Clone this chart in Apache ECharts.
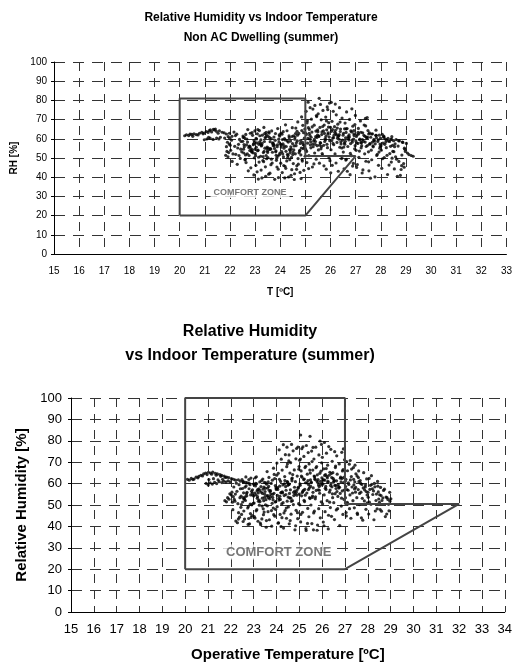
<!DOCTYPE html>
<html><head><meta charset="utf-8">
<script src="https://cdn.jsdelivr.net/npm/echarts@6/dist/echarts.min.js"></script>
<style>html,body{margin:0;padding:0;background:#fff}#c{width:515px;height:664px}</style>
</head><body><div id="c"></div>
<script>
// ---------- data ----------
const titleTop = ['Relative Humidity vs Indoor Temperature', 'Non AC Dwelling (summer)'];
const titleBottom = ['Relative Humidity', 'vs Indoor Temperature (summer)'];
const zoneTop = [[20,20],[20,81],[25,81],[25,51],[27,51],[25,20],[20,20]];
const zoneBottom = [[20,20],[20,100],[27,100],[27,50.5],[32,50.5],[27,20],[20,20]];
const labelTop = [[22.8,32]];
const labelBottom = [[24.1,28]];

const nonAcPoints = [
[20.2,61.6],[20.27,62.1],[20.36,61.7],[20.48,62.3],[20.57,62.6],[20.66,62.2],[20.79,62.9],[20.88,63.4],[20.97,63.0],[21.06,63.8],[21.18,64.3],[21.27,63.6],[21.38,64.6],[21.46,63.9],[21.58,64.2],[21.69,63.4],[21.77,63.1],[21.86,62.5],[21.98,62.9],[20.52,61.3],[20.73,62.0],[20.93,62.6],[21.13,63.3],[21.34,64.9],[21.53,62.9],[21.22,64.7],[21.42,65.1],[20.41,62.4],
[20.98,59.5],[21.08,59.9],[21.21,60.3],[21.33,59.7],[21.47,60.4],[21.62,60.8],[21.79,60.4],[21.93,61.1],[22.08,61.3],[22.22,61.7],[21.15,60.7],[21.56,59.9],
[22.12,52.1],[21.83,51.4],[22.31,55.2],[21.97,57.3],[22.44,58.6],[21.88,53.4],[22.19,56.1],[22.03,54.0],[22.38,59.7],[21.92,50.6],[22.27,62.4],[22.09,48.2],[22.41,49.8],[21.86,55.9],[22.23,51.9],[22.06,59.3],[22.47,53.2],[21.99,60.3],[22.34,57.1],[22.16,63.5],[22.29,46.7],[21.95,52.8],[22.43,54.6],[22.01,56.7],[22.36,51.3],[21.9,58.2],
[22.83,44.9],[22.61,49.3],[22.92,52.7],[22.54,54.6],[22.77,56.2],[22.98,58.1],[22.67,59.9],[22.52,61.4],[22.88,63.2],[22.71,64.8],[22.94,57.4],[22.58,60.6],[22.81,62.9],[22.97,50.1],[22.64,47.6],[22.86,53.5],[22.57,55.8],[22.73,43.3],[22.95,41.2],[22.62,51.6],[22.79,53.9],[22.51,58.7],[22.9,61.8],[22.69,52.2],[22.56,57.0],[22.84,54.8],[22.75,55.5],[22.99,64.1],[22.6,49.0],[22.93,56.9],[22.66,56.8],[22.87,53.1],[22.53,60.7],[22.8,55.9],[22.7,58.3],[22.96,59.1],[22.63,62.3],[22.76,51.3],[22.89,54.2],[22.55,52.6],
[23.27,39.6],[23.08,42.8],[23.41,45.4],[23.16,47.9],[23.46,49.6],[23.02,51.2],[23.33,52.8],[23.12,54.1],[23.48,55.7],[23.21,57.3],[23.37,58.6],[23.04,60.2],[23.29,61.9],[23.44,63.4],[23.11,64.8],[23.35,65.9],[23.07,57.9],[23.23,59.4],[23.49,53.6],[23.14,50.4],[23.39,55.1],[23.01,52.3],[23.26,56.7],[23.43,61.0],[23.09,62.6],[23.31,48.7],[23.47,54.9],[23.18,58.3],[23.03,46.2],[23.24,43.7],[23.42,40.5],[23.13,39.0],[23.36,53.4],[23.22,50.9],[23.06,59.9],[23.45,62.2],[23.28,57.6],[23.17,64.3],[23.38,62.7],[23.1,53.8],[23.32,50.7],[23.05,55.6],[23.44,51.3],[23.19,61.6],[23.25,56.3],[23.4,60.5],[23.15,57.1],[23.34,48.1],[23.0,54.6],
[23.78,38.9],[23.54,41.6],[23.92,44.2],[23.63,46.5],[23.85,48.8],[23.51,50.2],[23.97,51.7],[23.69,53.0],[23.57,54.4],[23.88,55.9],[23.73,57.2],[23.6,58.5],[23.94,59.8],[23.52,61.3],[23.81,62.7],[23.66,64.1],[23.9,65.3],[23.58,60.6],[23.76,56.6],[23.99,52.5],[23.65,49.4],[23.83,53.7],[23.53,55.2],[23.71,57.9],[23.96,62.0],[23.87,45.3],[23.59,42.1],[23.93,39.8],[23.68,47.4],[23.8,59.2],[23.55,63.6],[23.91,51.0],[23.62,54.6],[23.75,60.9],[23.86,49.9],[23.5,52.9],[23.72,56.4],[23.95,58.3],[23.64,60.1],[23.82,53.2],[23.56,63.0],[23.89,56.9],[23.7,57.6],[23.61,54.9],[23.84,51.4],[23.77,55.0],[23.98,61.4],
[24.33,40.1],[24.08,42.4],[24.46,43.9],[24.19,45.7],[24.02,47.3],[24.38,49.1],[24.13,50.6],[24.29,51.9],[24.06,53.3],[24.44,54.7],[24.24,56.0],[24.11,57.4],[24.41,58.8],[24.17,60.1],[24.35,61.5],[24.03,62.9],[24.27,64.2],[24.48,65.8],[24.21,67.3],[24.09,59.6],[24.4,53.8],[24.15,55.1],[24.31,51.4],[24.01,57.2],[24.26,48.5],[24.47,61.2],[24.12,63.7],[24.37,54.4],[24.05,56.8],[24.22,44.6],[24.43,41.0],[24.18,39.6],[24.32,58.3],[24.07,62.4],[24.45,50.3],[24.14,46.1],[24.28,58.9],[24.39,52.6],[24.04,55.7],[24.23,53.5],[24.49,57.5],[24.16,56.3],[24.36,60.6],[24.1,52.1],[24.3,50.3],[24.2,59.4],[24.42,55.8],
[24.83,39.3],[24.57,41.8],[24.94,43.6],[24.66,45.9],[24.52,47.1],[24.88,48.4],[24.71,49.7],[24.99,50.9],[24.6,52.2],[24.77,53.6],[24.91,54.9],[24.55,56.3],[24.8,57.6],[24.68,58.9],[24.96,60.3],[24.53,61.6],[24.74,62.8],[24.86,64.3],[24.62,65.6],[24.9,67.0],[24.7,68.8],[24.85,71.4],[24.58,59.8],[24.97,55.5],[24.64,57.9],[24.82,51.6],[24.51,53.0],[24.72,46.8],[24.93,63.2],[24.59,60.9],[24.87,49.2],[24.65,44.1],[24.79,42.5],[24.56,38.8],[24.98,65.1],[24.69,61.9],[24.75,52.7],[24.54,54.2],[24.89,58.1],[24.63,56.4],[24.81,59.1],[24.92,57.0],[24.67,63.9],[24.84,55.2],[24.5,51.8],[24.78,54.0],[24.95,56.6],[24.61,62.7],
[25.28,45.3],[25.06,47.6],[25.43,49.4],[25.14,51.2],[25.37,52.6],[25.02,53.9],[25.22,55.3],[25.47,56.4],[25.09,57.7],[25.33,58.8],[25.17,59.9],[25.41,61.1],[25.04,62.3],[25.26,63.5],[25.49,64.6],[25.12,65.8],[25.35,67.1],[25.07,68.3],[25.24,70.2],[25.44,72.1],[25.03,74.3],[25.19,76.2],[25.38,77.4],[25.11,79.1],[25.3,75.5],[25.46,60.7],[25.15,62.9],[25.39,57.1],[25.01,54.6],[25.27,66.2],[25.08,69.4],[25.42,64.0],[25.21,58.5],[25.34,46.9],[25.13,44.5],[25.45,71.6],[25.05,53.4],[25.31,55.9],[25.18,61.8],[25.4,58.6],[25.23,60.8],[25.1,60.2],[25.36,59.7],[25.48,61.9],[25.2,56.8],[25.29,57.3],[25.0,63.1],[25.16,64.9],
[25.83,44.2],[25.56,47.3],[25.94,50.1],[25.67,52.3],[25.52,54.2],[25.88,55.4],[25.73,56.6],[25.61,57.8],[25.97,59.0],[25.79,60.1],[25.54,61.2],[25.9,62.4],[25.66,63.6],[25.85,64.7],[25.58,65.9],[25.75,67.2],[25.93,68.4],[25.63,69.9],[25.81,71.3],[25.51,73.0],[25.7,74.8],[25.87,76.6],[25.6,77.9],[25.55,81.1],[25.96,78.6],[25.77,58.6],[25.53,61.5],[25.91,63.1],[25.69,66.4],[25.84,69.3],[25.62,54.8],[25.98,48.6],[25.74,45.9],[25.57,56.7],[25.89,75.2],[25.68,51.5],[25.5,63.7],[25.8,59.5],[25.65,62.2],[25.95,60.9],[25.72,64.2],[25.59,58.0],[25.86,57.1],[25.76,62.8],[25.64,55.9],[25.92,66.1],[25.82,61.3],
[26.31,43.1],[26.07,46.2],[26.44,49.7],[26.18,52.1],[26.02,54.3],[26.37,55.6],[26.13,56.9],[26.26,58.1],[26.48,59.3],[26.09,60.4],[26.33,61.6],[26.21,62.7],[26.04,63.9],[26.4,65.1],[26.16,66.3],[26.29,67.6],[26.06,69.1],[26.46,70.8],[26.23,72.5],[26.11,74.3],[26.36,76.2],[26.19,78.1],[26.03,79.0],[26.42,57.3],[26.14,61.9],[26.34,59.8],[26.08,64.8],[26.47,50.9],[26.22,47.4],[26.01,42.3],[26.38,68.7],[26.12,60.6],[26.27,65.6],[26.45,55.2],[26.05,59.1],[26.3,61.3],[26.17,63.4],[26.41,58.4],[26.24,62.1],[26.1,57.6],[26.39,63.8],[26.2,64.4],[26.35,62.2],[26.0,66.0],[26.28,60.3],
[26.78,41.3],[26.54,44.4],[26.91,47.2],[26.63,49.3],[26.83,51.2],[26.51,53.1],[26.96,54.8],[26.69,56.0],[26.57,57.2],[26.87,58.3],[26.73,59.4],[26.6,60.5],[26.94,61.7],[26.52,62.9],[26.81,64.1],[26.66,65.3],[26.89,66.6],[26.58,68.2],[26.76,70.1],[26.99,72.2],[26.64,74.0],[26.85,75.6],[26.55,57.8],[26.92,59.9],[26.7,61.1],[26.84,63.6],[26.53,55.7],[26.79,52.4],[26.97,67.4],[26.61,48.9],[26.88,45.8],[26.67,43.1],[26.75,60.9],[26.59,58.7],[26.93,62.6],[26.71,60.2],[26.86,59.3],[26.5,61.9],[26.8,57.5],[26.62,63.3],[26.98,56.4],[26.74,62.0],[26.56,65.2],
[27.26,42.2],[27.04,45.1],[27.41,48.3],[27.13,50.4],[27.36,52.2],[27.02,54.0],[27.22,55.3],[27.47,56.5],[27.09,57.6],[27.31,58.7],[27.17,59.8],[27.43,60.9],[27.06,62.0],[27.28,63.1],[27.49,64.3],[27.11,65.4],[27.34,67.2],[27.19,69.3],[27.39,70.6],[27.46,71.1],[27.24,56.4],[27.01,58.9],[27.37,61.3],[27.15,53.6],[27.44,60.4],[27.07,46.6],[27.29,43.8],[27.4,66.7],[27.12,62.5],[27.33,61.8],[27.21,58.1],[27.48,60.7],[27.05,57.8],[27.27,59.6],[27.16,59.5],[27.38,58.3],[27.03,61.2],[27.23,57.9],[27.42,56.0],[27.1,63.4],
[27.77,40.2],[27.53,43.3],[27.91,46.2],[27.64,49.1],[27.84,51.3],[27.51,53.2],[27.96,55.1],[27.69,56.3],[27.57,57.5],[27.88,58.6],[27.73,59.7],[27.6,60.8],[27.94,61.9],[27.55,63.1],[27.81,64.5],[27.67,62.6],[27.99,60.3],[27.75,58.9],[27.62,54.1],[27.86,51.9],[27.59,39.5],[27.97,57.3],[27.7,55.8],[27.52,48.0],[27.8,61.8],[27.93,53.1],[27.66,58.2],[27.83,60.6],[27.56,57.2],[27.72,59.1],[27.9,59.4],[27.78,57.4],[27.63,62.5],[27.98,56.0],
[28.27,41.4],[28.04,44.6],[28.42,47.9],[28.14,50.2],[28.36,52.3],[28.02,54.1],[28.22,55.4],[28.47,56.6],[28.09,57.7],[28.31,58.8],[28.18,59.9],[28.44,61.1],[28.06,62.3],[28.29,60.2],[28.12,61.4],[28.39,56.1],[28.2,58.3],[28.48,53.5],[28.07,49.6],[28.33,46.3],[28.11,60.9],[28.4,59.7],[28.25,51.4],[28.45,49.9],[28.16,57.1],[28.01,56.4],[28.35,58.6],[28.23,59.4],
[28.78,41.0],[28.54,44.3],[28.91,47.1],[28.63,49.4],[28.84,51.5],[28.52,53.3],[28.96,54.6],[28.69,56.2],[28.57,57.4],[28.88,58.1],[29.02,57.6],[28.61,59.6],[28.74,58.9],[28.93,45.2],[28.81,44.0],[29.06,52.6],[29.12,51.8],[29.21,51.3],[29.29,50.9],[28.66,40.5],[28.98,53.4],[28.59,50.6],[28.72,48.2],[28.83,46.0],[28.51,59.0],[28.86,58.3],[28.55,55.9],[28.94,55.1],
[26.62,65.2],[26.93,64.3],[27.21,63.4],[27.52,62.5],[27.82,61.8],[28.13,60.9],[28.43,59.7],[28.71,59.0]
];

const allPoints = [
[20.1,62.0],[20.18,61.6],[20.27,62.4],[20.39,62.1],[20.48,63.0],[20.6,63.4],[20.69,63.9],[20.81,64.5],[20.9,64.9],[21.02,65.3],[21.11,64.9],[21.21,65.4],[21.32,64.8],[21.41,64.5],[21.52,64.2],[21.6,63.8],[21.71,63.5],[21.82,63.0],[21.91,62.8],[22.03,62.3],[22.12,62.0],[22.21,61.6],[22.33,61.8],[22.42,61.1],[22.54,60.9],[20.34,61.9],[20.56,62.7],[20.76,63.6],[20.96,64.2],[21.16,64.4],[21.36,63.9],[21.56,63.4],[21.76,62.9],[22.65,60.6],[22.8,60.2],
[20.92,60.1],[21.01,59.4],[21.09,60.4],[21.19,59.8],[21.29,60.6],[21.38,60.0],[21.49,60.9],[21.61,60.5],[21.7,61.1],[21.79,60.7],[21.88,61.3],[21.97,60.8],[21.04,61.9],[21.24,62.3],[21.44,61.7],[21.64,62.0],
[22.07,51.3],[21.74,52.0],[22.31,50.6],[21.86,53.4],[22.18,51.8],[21.96,55.2],[22.42,57.6],[22.11,53.9],[22.27,56.4],[21.81,51.5],[22.46,50.2],[22.02,54.7],[22.36,59.5],[22.15,52.6],[22.38,44.3],[22.22,42.5],[22.47,45.6],[22.29,41.7],[22.09,47.8],[22.44,48.9],[22.24,60.2],[22.49,61.9],[22.34,46.4],[22.05,56.0],[22.4,53.4],[21.92,52.7],[22.2,55.1],[22.13,58.4],[22.33,43.4],[22.45,54.2],
[22.82,41.2],[22.6,43.4],[22.93,45.1],[22.57,47.2],[22.77,49.3],[22.98,50.8],[22.64,52.1],[22.53,53.5],[22.87,54.7],[22.71,55.9],[22.95,57.1],[22.62,58.3],[22.84,59.5],[22.55,60.8],[22.79,61.9],[22.91,56.4],[22.67,58.9],[22.52,51.4],[22.74,48.6],[22.89,44.2],[22.58,52.9],[22.97,54.6],[22.69,55.3],[22.54,42.3],[22.76,40.9],[22.92,50.1],[22.63,53.8],[22.86,46.0],[22.51,57.7],[22.72,60.4],[22.88,62.6],[22.66,63.1],[22.8,57.6],[22.59,52.7],[22.94,55.6],[22.7,54.3],[22.85,50.4],[22.56,55.7],[22.99,59.8],[22.78,43.7],
[23.29,41.6],[23.06,43.9],[23.43,45.5],[23.14,47.8],[23.37,49.5],[23.02,50.9],[23.24,52.3],[23.48,53.6],[23.1,54.8],[23.33,56.0],[23.18,57.2],[23.45,58.4],[23.04,59.6],[23.27,60.8],[23.4,62.1],[23.12,63.2],[23.35,61.4],[23.08,58.9],[23.21,51.7],[23.46,46.7],[23.16,53.1],[23.39,55.4],[23.01,54.2],[23.26,56.8],[23.13,59.9],[23.42,48.2],[23.19,42.4],[23.03,44.6],[23.31,40.8],[23.07,62.7],[23.44,52.0],[23.23,57.5],[23.11,47.3],[23.36,43.5],[23.47,60.6],[23.2,55.6],[23.05,55.6],[23.32,58.6],[23.17,53.9],[23.41,57.4],[23.28,51.6],[23.09,60.1],[23.38,53.2],[23.25,49.9],[23.49,55.0],[23.15,56.6],
[23.79,40.1],[23.56,42.7],[23.93,44.8],[23.63,46.9],[23.86,48.6],[23.52,50.1],[23.97,51.6],[23.7,52.9],[23.58,54.2],[23.89,55.5],[23.74,56.7],[23.61,57.9],[23.95,59.1],[23.53,60.3],[23.82,61.6],[23.67,62.9],[23.9,64.3],[23.59,65.6],[23.77,60.1],[23.99,57.3],[23.65,53.4],[23.84,55.0],[23.54,52.5],[23.72,56.2],[23.96,48.0],[23.6,49.6],[23.88,45.5],[23.69,43.1],[23.55,39.6],[23.81,50.8],[23.92,62.3],[23.66,58.7],[23.78,47.4],[23.51,57.8],[23.87,67.2],[23.62,54.4],[23.75,55.1],[23.94,51.4],[23.57,59.7],[23.83,53.6],[23.68,56.9],[23.98,58.1],[23.73,54.0],[23.64,60.8],[23.85,52.4],[23.5,56.3],
[24.31,39.2],[24.07,41.5],[24.44,43.8],[24.16,45.6],[24.38,47.4],[24.03,49.2],[24.23,50.5],[24.47,51.8],[24.1,53.1],[24.34,54.4],[24.19,55.7],[24.42,56.9],[24.05,58.1],[24.28,59.4],[24.49,60.7],[24.13,62.0],[24.36,63.3],[24.08,64.8],[24.25,66.3],[24.45,67.9],[24.02,69.6],[24.21,71.4],[24.39,73.5],[24.12,75.8],[24.3,78.2],[24.46,77.0],[24.17,52.6],[24.41,54.9],[24.06,57.3],[24.27,55.6],[24.14,58.8],[24.37,61.4],[24.01,63.9],[24.24,44.1],[24.09,41.7],[24.43,48.6],[24.2,39.9],[24.33,46.3],[24.48,69.2],[24.04,54.5],[24.26,56.2],[24.11,52.3],[24.4,58.6],[24.22,55.9],[24.35,59.9],[24.15,54.1],[24.47,60.9],[24.29,51.1],[24.0,57.7],[24.18,61.0],
[24.81,38.4],[24.56,41.2],[24.93,43.6],[24.64,45.7],[24.86,47.5],[24.52,49.1],[24.97,50.6],[24.7,52.0],[24.58,53.3],[24.89,54.6],[24.75,55.9],[24.61,57.1],[24.95,58.3],[24.53,59.6],[24.83,60.9],[24.67,62.2],[24.91,63.5],[24.59,64.9],[24.78,66.4],[24.99,68.0],[24.62,69.8],[24.85,71.6],[24.55,73.4],[24.73,75.3],[24.94,77.1],[24.66,78.3],[24.88,76.4],[24.51,53.7],[24.8,56.5],[24.68,61.3],[24.96,57.9],[24.57,59.8],[24.74,50.2],[24.92,46.4],[24.6,42.7],[24.84,40.3],[24.71,64.2],[24.54,70.6],[24.98,66.7],[24.63,53.2],[24.87,56.0],[24.76,54.4],[24.5,59.2],[24.9,57.0],[24.69,62.6],[24.82,55.2],[24.65,51.7],[24.79,58.3],[24.57,55.4],
[25.29,39.0],[25.06,42.1],[25.42,44.5],[25.14,46.6],[25.37,48.4],[25.02,50.1],[25.23,51.6],[25.47,53.0],[25.1,54.3],[25.33,55.6],[25.18,56.8],[25.44,58.0],[25.04,59.2],[25.27,60.4],[25.49,61.7],[25.12,63.0],[25.35,64.4],[25.08,65.9],[25.25,67.5],[25.43,69.2],[25.01,70.9],[25.2,72.7],[25.39,74.5],[25.11,76.3],[25.31,77.8],[25.06,82.7],[25.47,82.1],[25.16,77.2],[25.4,57.2],[25.03,59.9],[25.22,62.1],[25.45,53.4],[25.13,55.8],[25.3,38.1],[25.07,45.6],[25.36,41.4],[25.19,61.9],[25.46,66.3],[25.05,71.5],[25.28,68.1],[25.0,55.1],[25.24,57.3],[25.41,59.5],[25.15,56.3],[25.34,60.3],[25.09,63.5],[25.26,54.6],[25.48,64.9],[25.21,52.2],[25.38,61.4],
[25.78,38.2],[25.55,41.3],[25.92,44.0],[25.63,46.3],[25.85,48.3],[25.51,50.0],[25.96,51.5],[25.7,52.9],[25.58,54.2],[25.89,55.5],[25.74,56.8],[25.61,58.0],[25.94,59.3],[25.53,60.6],[25.82,61.9],[25.67,63.3],[25.9,64.8],[25.59,66.3],[25.76,68.0],[25.98,69.7],[25.64,71.5],[25.86,73.4],[25.54,75.2],[25.72,77.0],[25.91,79.9],[25.97,78.3],[25.6,76.9],[25.83,57.1],[25.52,60.4],[25.68,62.3],[25.93,61.0],[25.79,64.1],[25.57,53.5],[25.87,58.6],[25.66,47.1],[25.8,40.6],[25.62,38.4],[25.95,65.8],[25.73,67.4],[25.56,70.3],[25.5,58.7],[25.69,61.9],[25.84,59.4],[25.77,61.2],[25.65,63.5],[25.99,62.7],[25.88,56.9],[25.71,53.8],[25.6,55.9],[25.81,60.5],
[26.27,38.8],[26.05,42.0],[26.41,44.7],[26.13,46.9],[26.36,48.8],[26.02,50.5],[26.22,52.0],[26.46,53.4],[26.09,54.7],[26.32,56.0],[26.17,57.3],[26.43,58.5],[26.04,59.8],[26.26,61.1],[26.48,62.4],[26.11,63.8],[26.34,65.3],[26.07,66.9],[26.24,68.6],[26.44,70.4],[26.01,72.3],[26.19,74.2],[26.38,76.0],[26.1,79.2],[26.29,77.3],[26.45,55.2],[26.14,57.8],[26.39,60.1],[26.03,61.7],[26.21,63.4],[26.47,65.1],[26.16,58.7],[26.33,51.3],[26.08,40.3],[26.28,45.2],[26.42,62.8],[26.18,67.0],[26.0,60.0],[26.23,62.7],[26.37,59.1],[26.12,61.6],[26.31,63.9],[26.06,61.7],[26.25,60.6],[26.4,64.7],[26.15,64.2],[26.35,57.0],
[26.77,40.4],[26.54,43.2],[26.91,45.6],[26.62,47.7],[26.84,49.5],[26.51,51.1],[26.96,52.6],[26.69,54.0],[26.57,55.3],[26.88,56.6],[26.73,57.9],[26.6,59.1],[26.94,60.4],[26.52,61.7],[26.81,63.0],[26.66,64.4],[26.89,65.9],[26.58,67.5],[26.75,69.2],[26.98,71.1],[26.64,73.0],[26.86,74.6],[26.93,76.2],[26.55,74.9],[26.79,55.4],[26.61,57.7],[26.95,62.9],[26.7,59.6],[26.53,61.2],[26.85,53.2],[26.68,48.3],[26.92,66.5],[26.59,68.2],[26.5,60.7],[26.76,58.3],[26.63,61.3],[26.87,62.4],[26.72,58.6],[26.56,59.2],[26.83,60.8],[26.65,56.3],[26.97,57.0],[26.8,62.5],
[27.26,43.8],[27.05,46.5],[27.41,48.7],[27.13,50.5],[27.35,52.0],[27.02,53.4],[27.22,54.7],[27.46,56.0],[27.09,57.2],[27.31,58.4],[27.17,59.6],[27.43,60.8],[27.04,62.0],[27.28,63.3],[27.48,64.6],[27.11,66.0],[27.37,67.5],[27.19,69.1],[27.07,70.3],[27.23,70.8],[27.44,68.6],[27.14,56.9],[27.39,59.4],[27.01,61.1],[27.33,55.6],[27.1,51.2],[27.47,58.2],[27.2,48.3],[27.06,44.9],[27.29,66.8],[27.38,62.0],[27.15,60.3],[27.42,57.5],[27.24,61.7],[27.03,58.6],
[27.78,42.9],[27.55,45.6],[27.92,48.0],[27.63,50.2],[27.85,51.9],[27.52,53.4],[27.97,54.7],[27.7,56.0],[27.58,57.2],[27.89,58.4],[27.74,59.6],[27.61,60.9],[27.95,62.2],[27.53,63.6],[27.82,65.1],[27.67,61.4],[27.9,59.3],[27.59,62.8],[27.76,53.1],[27.98,51.0],[27.64,55.4],[27.86,57.1],[27.54,46.2],[27.72,44.0],[27.6,65.9],[27.8,58.0],[27.69,60.1],[27.93,56.3],
[28.27,43.1],[28.04,45.8],[28.41,48.2],[28.14,50.3],[28.36,52.1],[28.02,53.6],[28.22,54.9],[28.46,56.1],[28.09,57.3],[28.31,58.5],[28.18,59.7],[28.43,61.0],[28.06,62.4],[28.29,60.1],[28.12,59.2],[28.38,55.1],[28.2,57.6],[28.48,52.8],[28.07,51.3],[28.33,47.2],[28.16,63.7],[28.25,56.6],[28.44,58.8],[28.01,55.9],
[28.77,44.6],[28.54,47.9],[28.91,50.3],[28.62,52.1],[28.84,53.5],[28.52,54.8],[28.96,55.9],[28.69,56.8],[28.58,54.4],[28.88,52.6],[29.01,52.9],[28.73,57.4],[28.6,47.1],[28.83,45.8],[28.93,47.3],[28.66,53.3],[28.51,51.2],[28.8,53.7],[28.97,51.8],[28.56,58.2]
];

// ---------- chart ----------
const FONT = '"Liberation Sans", Arial, sans-serif';
function xAx(idx, max, fs, margin, name, nameFs, nameGap) {
  return {
    type: 'value', gridIndex: idx, min: 15, max: max, interval: 1,
    axisLine: { show: true, onZero: false, lineStyle: { color: '#000', width: 1 } },
    axisTick: { show: false },
    axisLabel: { fontSize: fs, color: '#000', margin: margin, fontFamily: FONT },
    splitLine: { show: true, lineStyle: { color: '#333', width: 1, type: [9, 7] } },
    name: name, nameLocation: 'middle', nameGap: nameGap,
    nameTextStyle: { fontSize: nameFs, fontWeight: 'bold', color: '#000', fontFamily: FONT }
  };
}
function yAx(idx, fs, margin, name, nameFs, nameGap) {
  return {
    type: 'value', gridIndex: idx, min: 0, max: 100, interval: 10,
    axisLine: { show: true, onZero: false, lineStyle: { color: '#000', width: 1 } },
    axisTick: { show: true, length: 3, lineStyle: { color: '#000' } },
    axisLabel: { fontSize: fs, color: '#000', margin: margin, fontFamily: FONT },
    splitLine: { show: true, lineStyle: { color: '#333', width: 1, type: [11, 8] } },
    name: name, nameLocation: 'middle', nameGap: nameGap, nameRotate: 90,
    nameTextStyle: { fontSize: nameFs, fontWeight: 'bold', color: '#000', fontFamily: FONT }
  };
}
function zoneLine(data, idx) {
  return { type: 'line', xAxisIndex: idx, yAxisIndex: idx, data: data, symbol: 'none', z: 5, silent: true,
    lineStyle: { color: '#444', width: 2 } };
}
function zoneLabel(data, idx, fs) {
  return { type: 'scatter', xAxisIndex: idx, yAxisIndex: idx, data: data, symbolSize: 0, z: 6, silent: true,
    label: { show: true, position: 'inside', formatter: 'COMFORT ZONE', fontSize: fs, fontWeight: 'bold',
      color: '#555', fontFamily: FONT, backgroundColor: '#fff', padding: [1, 3] } };
}
function pts(data, idx) {
  return { type: 'scatter', xAxisIndex: idx, yAxisIndex: idx, data: data, symbol: 'circle', symbolSize: 3.2,
    itemStyle: { color: '#000' }, z: 3, silent: true, large: false };
}

const chart = echarts.init(document.getElementById('c'));
chart.setOption({
  animation: false,
  backgroundColor: '#fff',
  textStyle: { fontFamily: FONT },
  graphic: [
    { type: 'text', x: 261, y: 18, style: { text: titleTop[0], textAlign: 'center', textVerticalAlign: 'middle', font: 'bold 12px ' + FONT, fill: '#000' } },
    { type: 'text', x: 261, y: 38, style: { text: titleTop[1], textAlign: 'center', textVerticalAlign: 'middle', font: 'bold 12px ' + FONT, fill: '#000' } },
    { type: 'text', x: 250, y: 332, style: { text: titleBottom[0], textAlign: 'center', textVerticalAlign: 'middle', font: 'bold 16px ' + FONT, fill: '#000' } },
    { type: 'text', x: 250, y: 356, style: { text: titleBottom[1], textAlign: 'center', textVerticalAlign: 'middle', font: 'bold 16px ' + FONT, fill: '#000' } }
  ],
  grid: [
    { left: 54, top: 62, width: 456, height: 192 },
    { left: 71, top: 398, width: 437, height: 214 }
  ],
  xAxis: [
    xAx(0, 33, 10, 12, 'T [ºC]', 10, 33),
    xAx(1, 34, 13, 11, 'Operative Temperature [ºC]', 15, 35)
  ],
  yAxis: [
    yAx(0, 10, 7, 'RH [%]', 10, 31),
    yAx(1, 13, 9, 'Relative Humidity [%]', 15, 40)
  ],
  series: [
    pts(nonAcPoints, 0), zoneLine(zoneTop, 0), zoneLabel(labelTop, 0, 9),
    pts(allPoints, 1), zoneLine(zoneBottom, 1), zoneLabel(labelBottom, 1, 13)
  ]
});
</script></body></html>
